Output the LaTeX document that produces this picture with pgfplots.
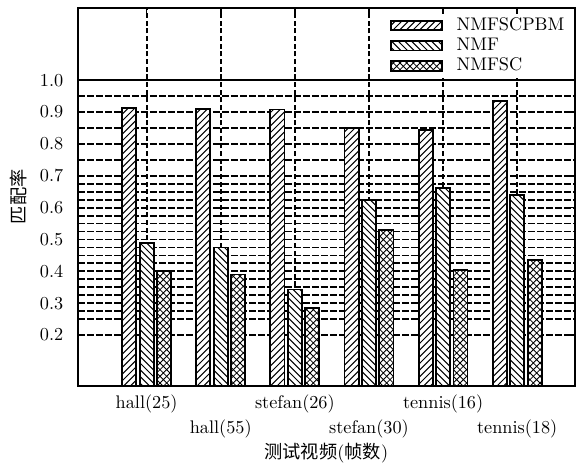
\documentclass[11pt,border=0pt]{standalone}
\usepackage{fontspec}
\newfontfamily\cjk{Noto Sans CJK SC}
\usepackage{pgfplots}
\pgfplotsset{compat=1.18}
\usetikzlibrary{patterns}

\pgfdeclarepatternformonly{myne}{\pgfqpoint{-1pt}{-1pt}}{\pgfqpoint{5pt}{5pt}}{\pgfqpoint{4pt}{4pt}}{%
  \pgfsetlinewidth{0.6pt}%
  \pgfpathmoveto{\pgfqpoint{0pt}{0pt}}\pgfpathlineto{\pgfqpoint{4.1pt}{4.1pt}}%
  \pgfusepath{stroke}}
\pgfdeclarepatternformonly{mynw}{\pgfqpoint{-1pt}{-1pt}}{\pgfqpoint{5pt}{5pt}}{\pgfqpoint{4pt}{4pt}}{%
  \pgfsetlinewidth{0.6pt}%
  \pgfpathmoveto{\pgfqpoint{0pt}{4pt}}\pgfpathlineto{\pgfqpoint{4.1pt}{-0.1pt}}%
  \pgfusepath{stroke}}
\pgfdeclarepatternformonly{mycross}{\pgfqpoint{-1pt}{-1pt}}{\pgfqpoint{5pt}{5pt}}{\pgfqpoint{4pt}{4pt}}{%
  \pgfsetlinewidth{0.5pt}%
  \pgfpathmoveto{\pgfqpoint{0pt}{0pt}}\pgfpathlineto{\pgfqpoint{4.1pt}{4.1pt}}%
  \pgfpathmoveto{\pgfqpoint{0pt}{4pt}}\pgfpathlineto{\pgfqpoint{4.1pt}{-0.1pt}}%
  \pgfusepath{stroke}}

\begin{document}
\begin{tikzpicture}
\path[use as bounding box] (-46.8pt,-46.2pt) rectangle (302.4pt,231.6pt);
\begin{axis}[
  scale only axis,
  width=298pt, height=227pt,
  xmin=0.074, xmax=6.775,
  ymin=0.04, ymax=1.228,
  axis line style={line width=1.1pt},
  xtick={1,2,3,4,5,6},
  xticklabels={{\strut hall(25)},{\strut\\[1pt]\strut hall(55)},{\strut stefan(26)},{\strut\\[1pt]\strut stefan(30)},{\strut tennis(16)},{\strut\\[1pt]\strut tennis(18)}},
  xticklabel style={align=center,inner ysep=1pt,yshift=-3pt},
  ytick={0.2,0.3,0.4,0.5,0.6,0.7,0.8,0.9},
  yticklabel style={xshift=-5pt,/pgf/number format/.cd,fixed,fixed zerofill,precision=1},
  extra y ticks={1.0},
  extra y tick labels={$1.0$},
  extra y tick style={major grid style={solid,black,line width=1.1pt}},
  minor ytick={0.25,0.275,0.325,0.35,0.375,0.425,0.45,0.475,0.525,0.55,0.575,0.625,0.65,0.675,0.75,0.85,0.95},
  minor tick length=0pt,
  major tick length=3pt,
  tick align=inside,
  tick style={black,line width=0.9pt},
  xmajorgrids, ymajorgrids, yminorgrids,
  major grid style={black,line width=1.1pt,dash pattern=on 4pt off 1.4pt},
  minor grid style={black,line width=1.1pt,dash pattern=on 4pt off 1.4pt},
  major x grid style={black,line width=1.1pt,dash pattern=on 3pt off 1.6pt},
  xlabel={{\cjk 测试视频}({\cjk 帧数})},
  xlabel style={yshift=3pt},
  ylabel={{\cjk 匹配率}},
  legend style={draw=none,fill=white,at={(rel axis cs:1,1)},anchor=north east,
    yshift=-3.8pt,
    inner xsep=3pt,inner ysep=1pt,row sep=0pt,
    nodes={inner xsep=3pt,inner ysep=1.6pt,text height=6.9pt,text depth=2pt},
    /tikz/every odd column/.append style={column sep=5pt}},
  legend cell align=left,
  mybar/.style={ybar,bar width=0.19,draw=black,line width=1.1pt,fill=white,
    legend image code/.code={\draw[##1] (0pt,-2.6pt) rectangle (31pt,3.2pt);}},
]
\addplot[mybar,bar shift=-0.235,postaction={pattern=myne}] coordinates {
  (1,0.912) (2,0.911) (3,0.908) (4,0.850) (5,0.845) (6,0.936)};
\addplot[mybar,bar shift=0,postaction={pattern=mynw}] coordinates {
  (1,0.488) (2,0.475) (3,0.343) (4,0.625) (5,0.662) (6,0.640)};
\addplot[mybar,bar shift=0.235,postaction={pattern=mycross}] coordinates {
  (1,0.402) (2,0.390) (3,0.285) (4,0.530) (5,0.405) (6,0.435)};
\legend{NMFSCPBM,NMF,NMFSC}
\end{axis}
\end{tikzpicture}
\end{document}
